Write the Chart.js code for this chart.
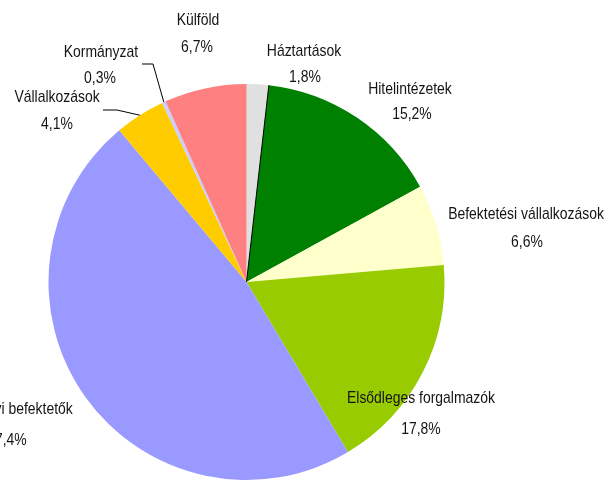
<!DOCTYPE html>
<html>
<head>
<meta charset="utf-8">
<script src="https://cdn.jsdelivr.net/npm/chart.js@4.4.1/dist/chart.umd.min.js"></script>
<style>
  html, body { margin: 0; padding: 0; background: #ffffff; }
  #wrap { width: 609px; height: 480px; }
</style>
</head>
<body>
<div id="wrap"><canvas id="c" width="609" height="480"></canvas></div>
<script>
// ---- data ----
const categories = [
  "Háztartások",
  "Hitelintézetek",
  "Befektetési vállalkozások",
  "Elsődleges forgalmazók",
  "Intézményi befektetők",
  "Vállalkozások",
  "Kormányzat",
  "Külföld"
];
const shares = [1.8, 15.2, 6.6, 17.8, 47.4, 4.1, 0.3, 6.7];
const sliceColors = ["#e0e0e0", "#008000", "#ffffcc", "#99cc00", "#9999ff", "#ffcc00", "#ccccff", "#ff8080"];

const pctText = v => v.toFixed(1).replace('.', ',') + '%';

// label anchor offsets relative to pie centre (name line, percent line)
const labelOffsets = [
  [[57.5, -231], [58.5, -205]],
  [[163.5, -193], [165.5, -168]],
  [[279.5, -68], [280.5, -40]],
  [[174.5, 116], [174.5, 147]],
  [[-241.5, 127], [-239.5, 158]],
  [[-189.5, -185], [-189.5, -158]],
  [[-145.5, -230], [-146.5, -204]],
  [[-48.5, -262], [-49.5, -235]]
];
// leader lines: index -> polyline points (offsets from centre), ending at slice rim
const leaders = {
  5: [[-143.5, -172], [-129.5, -172]],
  6: [[-104.5, -218], [-93.5, -218]]
};

const labelPlugin = {
  id: 'pieLabels',
  afterDatasetsDraw(chart) {
    const ctx = chart.ctx;
    const meta = chart.getDatasetMeta(0);
    const a0 = meta.data[0];
    const cx = a0.x, cy = a0.y, R = a0.outerRadius;
    ctx.save();
    // dark boundary line between first and second slice
    ctx.strokeStyle = '#000000';
    ctx.lineWidth = 1;
    ctx.beginPath();
    ctx.moveTo(cx, cy);
    ctx.lineTo(cx + R * Math.cos(a0.endAngle), cy + R * Math.sin(a0.endAngle));
    ctx.stroke();
    // leader lines
    Object.keys(leaders).forEach(k => {
      const arc = meta.data[+k];
      const mid = (arc.startAngle + arc.endAngle) / 2;
      const pts = leaders[k];
      ctx.beginPath();
      ctx.moveTo(cx + pts[0][0], cy + pts[0][1]);
      for (let i = 1; i < pts.length; i++) ctx.lineTo(cx + pts[i][0], cy + pts[i][1]);
      ctx.lineTo(cx + R * Math.cos(mid), cy + R * Math.sin(mid));
      ctx.stroke();
    });
    // labels (narrow sans rendering)
    ctx.fillStyle = '#141414';
    ctx.font = '17px "Liberation Sans", Arial, sans-serif';
    ctx.textAlign = 'center';
    ctx.textBaseline = 'middle';
    const put = (t, x, y) => {
      ctx.save();
      ctx.translate(x, y);
      ctx.scale(0.82, 1);
      ctx.fillText(t, 0, 0);
      ctx.restore();
    };
    categories.forEach((name, i) => {
      const o = labelOffsets[i];
      put(name, cx + o[0][0], cy + o[0][1]);
      put(pctText(shares[i]), cx + o[1][0], cy + o[1][1]);
    });
    ctx.restore();
  }
};

new Chart(document.getElementById('c'), {
  type: 'pie',
  data: {
    labels: categories,
    datasets: [{
      data: shares,
      backgroundColor: sliceColors,
      borderWidth: 0
    }]
  },
  options: {
    responsive: false,
    animation: false,
    layout: { padding: { left: 48.5, top: 84, right: 164.5, bottom: 0 } },
    plugins: {
      legend: { display: false },
      tooltip: { enabled: false }
    }
  },
  plugins: [labelPlugin]
});
</script>
</body>
</html>
